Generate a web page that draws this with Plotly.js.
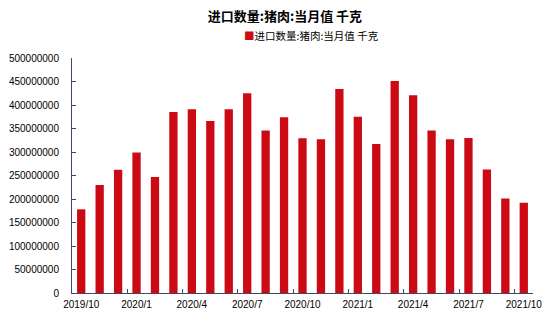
<!DOCTYPE html>
<html>
<head>
<meta charset="utf-8">
<script src="https://cdn.plot.ly/plotly-3.0.1.min.js"></script>
<style>html,body{margin:0;padding:0;background:#fff;}#chart{width:550px;height:319px;}</style>
</head>
<body>
<div id="chart"></div>
<script>
const months = ["2019/10","2019/11","2019/12","2020/1","2020/2","2020/3","2020/4","2020/5","2020/6","2020/7","2020/8","2020/9","2020/10","2020/11","2020/12","2021/1","2021/2","2021/3","2021/4","2021/5","2021/6","2021/7","2021/8","2021/9","2021/10"];
const values = [178000000,230000000,262000000,299000000,247000000,385000000,391000000,366000000,391000000,425000000,346000000,374000000,329000000,327000000,434000000,375000000,317000000,451000000,421000000,346000000,327000000,330000000,263000000,201000000,192000000];
const tickLabels = ["2019/10","2020/1","2020/4","2020/7","2020/10","2021/1","2021/4","2021/7","2021/10"];
const seriesName = "进口数量:猪肉:当月值 千克";
const titleText = "进口数量:猪肉:当月值 千克";

const barColor = "#CC0A14";
const axisColor = "#3a4a6b";
const font = "Liberation Sans, Arial, Noto Sans CJK SC, sans-serif";

const trace = {
  type: "bar",
  x: months,
  y: values,
  name: seriesName,
  marker: {color: barColor},
  showlegend: false,
  hoverinfo: "x+y"
};

const layout = {
  width: 550, height: 319,
  margin: {l: 72, r: 17, t: 58, b: 26},
  paper_bgcolor: "#fff", plot_bgcolor: "#fff",
  bargap: 0.55,
  font: {family: font, size: 10, color: "#000"},
  title: {text: "<b>" + titleText + "</b>", x: 0.518, xanchor: "center", y: 0.95, yanchor: "middle",
          font: {family: "Noto Sans CJK SC, sans-serif", size: 13, color: "#000"}},
  xaxis: {
    type: "category",
    categoryorder: "array", categoryarray: months,
    tickmode: "array",
    tickvals: tickLabels,
    ticktext: tickLabels,
    tickson: "boundaries",
    tickangle: 0,
    automargin: false,
    ticks: "inside", ticklen: 4, tickcolor: axisColor,
    showline: true, linecolor: axisColor, linewidth: 1,
    showgrid: false, zeroline: false,
    ticklabelstandoff: 2,
    tickfont: {family: font, size: 10, color: "#000"}
  },
  yaxis: {
    range: [0, 500000000],
    tickmode: "linear", tick0: 0, dtick: 50000000,
    tickformat: "d",
    automargin: false,
    ticks: "inside", ticklen: 4, tickcolor: axisColor,
    showline: true, linecolor: axisColor, linewidth: 1,
    showgrid: false, zeroline: false,
    ticklabelstandoff: 10,
    tickfont: {family: font, size: 10, color: "#000"}
  },
  annotations: [{
    xref: "paper", yref: "paper",
    x: 0.52, y: 1.095, xanchor: "center", yanchor: "middle",
    showarrow: false,
    text: '<span style="color:' + barColor + '">■</span>' + seriesName,
    font: {family: "Noto Sans CJK SC, sans-serif", size: 10.5, color: "#000"}
  }]
};

Plotly.newPlot("chart", [trace], layout, {displayModeBar: false, staticPlot: true});
</script>
</body>
</html>
